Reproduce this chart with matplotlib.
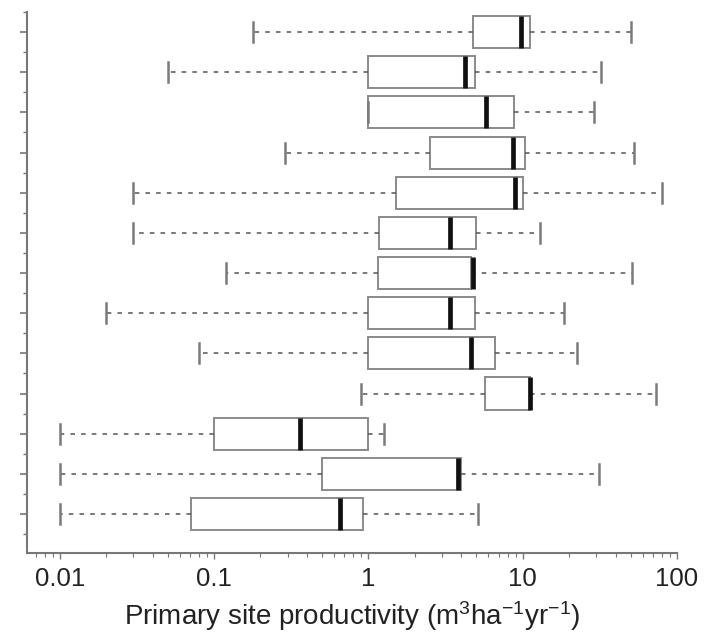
import matplotlib
matplotlib.use("Agg")
import matplotlib.pyplot as plt
from matplotlib.ticker import LogLocator, FixedLocator, NullFormatter, FixedFormatter
import numpy as np

# Box statistics, listed from top box to bottom box
whisker_lo = [0.18, 0.050, 1.0, 0.29, 0.030, 0.030, 0.12, 0.020, 0.080, 0.89, 0.010, 0.010, 0.010]
q1         = [4.8, 1.0, 1.0, 2.5, 1.5, 1.18, 1.16, 1.0, 1.0, 5.7, 0.10, 0.50, 0.071]
median     = [9.8, 4.2, 5.8, 8.6, 8.9, 3.4, 4.8, 3.4, 4.6, 11.2, 0.36, 3.8, 0.66]
q3         = [11.2, 4.9, 8.8, 10.3, 10.0, 5.0, 4.6, 4.9, 6.6, 11.2, 1.0, 4.0, 0.93]
whisker_hi = [50, 32, 29, 53, 80, 13, 51, 18.5, 22.5, 73, 1.27, 31, 5.1]

xticks = [0.01, 0.1, 1, 10, 100]
xticklabels = ["0.01", "0.1", "1", "10", "100"]
xlabel = "Primary site productivity (m$^{3}$ha$^{-1}$yr$^{-1}$)"

plt.rcParams['font.family'] = ['Liberation Sans', 'DejaVu Sans']
plt.rcParams['mathtext.fontset'] = 'custom'
plt.rcParams['mathtext.rm'] = 'Liberation Sans'
plt.rcParams['mathtext.it'] = 'Liberation Sans'

fig = plt.figure(figsize=(7.04, 6.34), dpi=100)
ax = fig.add_axes([27/704, (634-553)/634, (677-27)/704, (553-12)/634])

n = len(median)
positions = list(range(n, 0, -1))
stats = []
for i in range(n):
    stats.append(dict(med=median[i], q1=q1[i], q3=max(q3[i], q1[i]),
                      whislo=whisker_lo[i], whishi=whisker_hi[i], fliers=[]))

ax.bxp(stats, positions=positions, vert=False, widths=0.8, capwidths=0.5,
       showfliers=False, patch_artist=True,
       boxprops=dict(facecolor='white', edgecolor='#8a8a8a', linewidth=1.4),
       medianprops=dict(color='#111111', linewidth=3.4, solid_capstyle='butt'),
       whiskerprops=dict(color='#555555', linewidth=1.1, linestyle=(0, (3, 4))),
       capprops=dict(color='#7a7a7a', linewidth=1.8))

ax.set_xscale('log')
ax.set_xlim(0.00614, 100)
ax.set_ylim(0.03, 13.5)

ax.xaxis.set_major_locator(FixedLocator(xticks))
ax.xaxis.set_major_formatter(FixedFormatter(xticklabels))
ax.xaxis.set_minor_locator(LogLocator(base=10, subs=np.arange(2, 10), numticks=20))
ax.xaxis.set_minor_formatter(NullFormatter())

ax.yaxis.set_major_locator(FixedLocator(positions))
ax.yaxis.set_minor_locator(FixedLocator([p + 0.5 for p in range(0, n + 1)]))
ax.set_yticklabels([])

for s in ['top', 'right']:
    ax.spines[s].set_visible(False)
for s in ['left', 'bottom']:
    ax.spines[s].set_color('#777777')
    ax.spines[s].set_linewidth(1.5)

ax.tick_params(axis='x', which='major', length=4, width=1.0, color='#777777',
               labelsize=18.5, pad=6, labelcolor='#222222')
ax.tick_params(axis='x', which='minor', length=3, width=0.8, color='#777777')
ax.tick_params(axis='y', which='major', length=5, width=1.2, color='#777777')
ax.tick_params(axis='y', which='minor', length=3, width=1.0, color='#777777')

ax.set_xlabel(xlabel, fontsize=20, labelpad=6, color='#222222')

fig.savefig("out.png", dpi=100)
